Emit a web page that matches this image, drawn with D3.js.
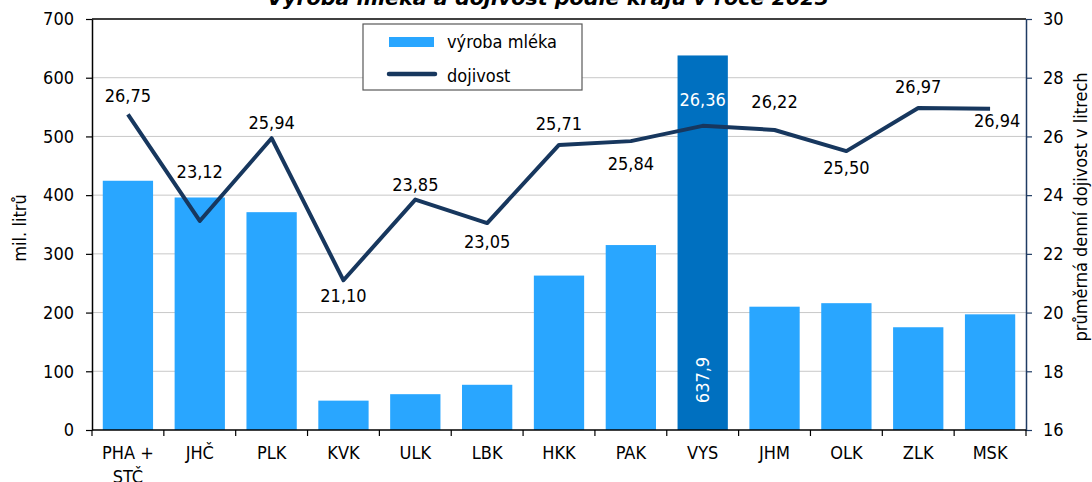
<!DOCTYPE html>
<html><head><meta charset="utf-8">
<script src="https://cdn.jsdelivr.net/npm/d3@7"></script>
<style>
body{margin:0;background:#fff}
text{font-family:"DejaVu Sans Condensed","DejaVu Sans",sans-serif;font-stretch:condensed;fill:#000}
</style>
</head><body>
<svg id="c" width="1092" height="482"></svg>
<script>
const categories = ["PHA + STČ","JHČ","PLK","KVK","ULK","LBK","HKK","PAK","VYS","JHM","OLK","ZLK","MSK"];
const milkProduction = [424.5, 396, 371, 50, 61, 77, 263, 315, 637.9, 210, 216, 175, 197];
const milkYield = [26.75, 23.12, 25.94, 21.10, 23.85, 23.05, 25.71, 25.84, 26.36, 26.22, 25.50, 26.97, 26.94];
const leftTicks = [0,100,200,300,400,500,600,700];
const rightTicks = [16,18,20,22,24,26,28,30];
const highlighted = "VYS";
const seriesNames = ["výroba mléka","dojivost"];
const titleText = "Výroba mléka a dojivost podle krajů v roce 2023";
const leftTitle = "mil. litrů";
const rightTitle = "průměrná denní dojivost v litrech";

// layout (label placement relative to points)
const labelDy = [-19,-49,-16,15,-15,18,-21,22,-26,-28,16,-21,12];
const labelDx = [0,0,0,0,0,0,0,0,0,0,0,0,7];

const svg = d3.select("#c");
const M = {l:92, r:1026, t:19, b:430};
const fmt = v => d3.format(".2f")(v).replace(".", ",");
const fmt1 = v => d3.format(".1f")(v).replace(".", ",");

const x = d3.scaleBand().domain(categories).range([M.l, M.r]).paddingInner(0.3).paddingOuter(0.15);
const yL = d3.scaleLinear().domain([0,700]).range([M.b, M.t]);
const yR = d3.scaleLinear().domain([16,30]).range([M.b, M.t]);

// title (partly cut off at top)
svg.append("text").attr("x", 548).attr("y", 5).attr("text-anchor","middle")
  .style("font-weight","bold").style("font-style","italic").style("font-size","20px")
  .attr("textLength", 562).attr("lengthAdjust","spacingAndGlyphs").text(titleText);

// gridlines
svg.append("g").selectAll("line").data(leftTicks.filter(d => d>0 && d<700)).join("line")
  .attr("x1", M.l).attr("x2", M.r).attr("y1", d=>yL(d)).attr("y2", d=>yL(d))
  .attr("stroke","#c8c8c8").attr("stroke-width",1);
// top border
svg.append("line").attr("x1", M.l).attr("x2", M.r).attr("y1", yL(700)).attr("y2", yL(700))
  .attr("stroke","#404040").attr("stroke-width",2);

// bars
svg.append("g").selectAll("rect").data(categories).join("rect")
  .attr("x", d=>x(d)).attr("width", x.bandwidth())
  .attr("y", (d,i)=>yL(milkProduction[i])).attr("height", (d,i)=>yL(0)-yL(milkProduction[i]))
  .attr("fill", d => d===highlighted ? "#0070c0" : "#29a6ff");

// line
const line = d3.line().x((d,i)=>x(categories[i])+x.bandwidth()/2).y(d=>yR(d));
svg.append("path").datum(milkYield).attr("d", line).attr("fill","none")
  .attr("stroke","#17375e").attr("stroke-width",4).attr("stroke-linejoin","round");

// line labels
svg.append("g").selectAll("text").data(milkYield).join("text")
  .attr("x", (d,i)=>x(categories[i])+x.bandwidth()/2+labelDx[i])
  .attr("y", (d,i)=>yR(d)+labelDy[i])
  .attr("text-anchor","middle").attr("dominant-baseline","central")
  .style("font-size","18px")
  .style("fill", (d,i)=> categories[i]===highlighted ? "#fff" : "#000")
  .text(d=>fmt(d));

// bar label for highlighted
const hi = categories.indexOf(highlighted);
svg.append("text")
  .attr("transform", `translate(${x(highlighted)+x.bandwidth()/2},380) rotate(-90)`)
  .attr("text-anchor","middle").attr("dominant-baseline","central")
  .style("font-size","18px").style("fill","#fff").text(fmt1(milkProduction[hi]));

// axes
const axL = svg.append("g").attr("transform",`translate(${M.l},0)`)
  .call(d3.axisLeft(yL).tickValues(leftTicks).tickSize(6).tickSizeOuter(0).tickPadding(12));
axL.select(".domain").attr("stroke","#000").attr("stroke-width",1.5);
axL.selectAll(".tick line").attr("stroke","#000").attr("stroke-width",1.2);
axL.selectAll(".tick text").style("font-size","18px").attr("font-family",null).attr("fill","#000");

const axR = svg.append("g").attr("transform",`translate(${M.r},0)`)
  .call(d3.axisRight(yR).tickValues(rightTicks).tickSize(6).tickSizeOuter(0).tickPadding(11));
axR.select(".domain").attr("stroke","#1f3b63").attr("stroke-width",1.5);
axR.selectAll(".tick line").attr("stroke","#1f3b63").attr("stroke-width",1.2);
axR.selectAll(".tick text").style("font-size","18px").attr("font-family",null).attr("fill","#000");

// bottom axis
svg.append("line").attr("x1",M.l).attr("x2",M.r).attr("y1",M.b).attr("y2",M.b).attr("stroke","#000").attr("stroke-width",1.5);
const bounds = d3.range(categories.length+1).map(i => M.l + (M.r-M.l)*i/categories.length);
svg.append("g").selectAll("line").data(bounds).join("line")
  .attr("x1",d=>d).attr("x2",d=>d).attr("y1",M.b).attr("y2",M.b+6).attr("stroke","#000").attr("stroke-width",1.2);
const cl = svg.append("g").selectAll("text").data(categories).join("text")
  .attr("x", d=>x(d)+x.bandwidth()/2).attr("y", 459)
  .attr("text-anchor","middle").style("font-size","18px");
cl.each(function(d){
  const parts = d === "PHA + STČ" ? ["PHA +","STČ"] : [d];
  const t = d3.select(this);
  parts.forEach((p,j)=> t.append("tspan").attr("x", x(d)+x.bandwidth()/2).attr("dy", j===0?0:24).text(p));
});

// axis titles
svg.append("text").attr("transform","translate(19,228) rotate(-90)")
  .attr("text-anchor","middle").attr("dominant-baseline","central").style("font-size","18px").text(leftTitle);
svg.append("text").attr("transform","translate(1080,207) rotate(-90)")
  .attr("text-anchor","middle").attr("dominant-baseline","central").style("font-size","18px").text(rightTitle);

// legend
const lg = svg.append("g");
lg.append("rect").attr("x",363).attr("y",24).attr("width",219).attr("height",66)
  .attr("fill","#fff").attr("stroke","#595959").attr("stroke-width",1.2);
lg.append("rect").attr("x",389).attr("y",37).attr("width",45).attr("height",10).attr("fill","#29a6ff");
lg.append("line").attr("x1",389).attr("x2",435).attr("y1",74).attr("y2",74)
  .attr("stroke","#17375e").attr("stroke-width",4.5).attr("stroke-linecap","round");
lg.append("text").attr("x",447).attr("y",48).style("font-size","18px").text(seriesNames[0]);
lg.append("text").attr("x",447).attr("y",82).style("font-size","18px").text(seriesNames[1]);
</script>
</body></html>
